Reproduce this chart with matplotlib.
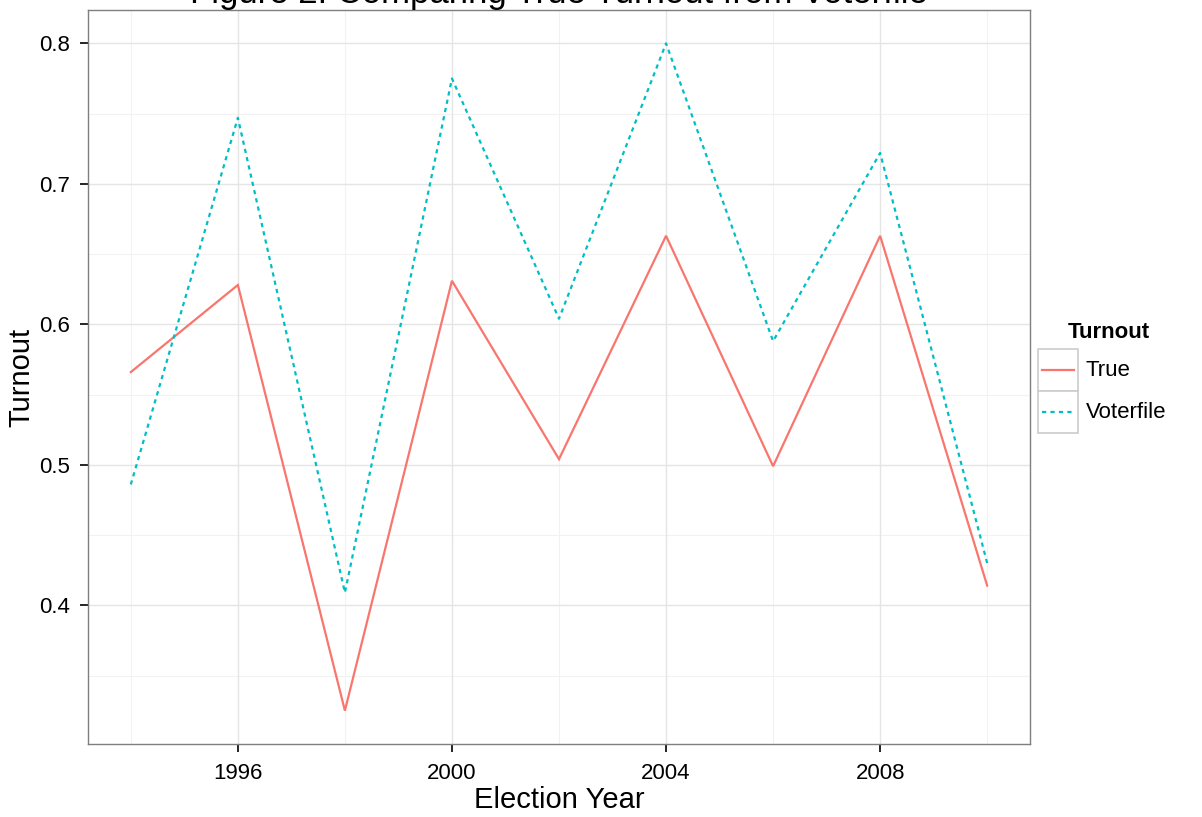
import matplotlib
matplotlib.use("Agg")
import matplotlib.pyplot as plt
from matplotlib.lines import Line2D
from matplotlib.patches import Rectangle

plt.rcParams['font.family'] = ['Liberation Sans', 'DejaVu Sans']

years = [1994, 1996, 1998, 2000, 2002, 2004, 2006, 2008, 2010]
true_turnout = [0.566, 0.628, 0.325, 0.631, 0.504, 0.663, 0.499, 0.663, 0.414]
voterfile_turnout = [0.486, 0.747, 0.409, 0.775, 0.604, 0.800, 0.588, 0.722, 0.430]
series_names = ["True", "Voterfile"]
x_ticks = [1996, 2000, 2004, 2008]
y_ticks = [0.4, 0.5, 0.6, 0.7, 0.8]
x_minor = [1994, 1998, 2002, 2006, 2010]
y_minor = [0.35, 0.45, 0.55, 0.65, 0.75]

W, H = 1202, 817
fig = plt.figure(figsize=(W / 100, H / 100), dpi=100)
left, right, top, bottom = 88, 1030, 10, 744
ax = fig.add_axes([left / W, 1 - bottom / H, (right - left) / W, (bottom - top) / H])

c_true = '#F8766D'
c_vf = '#00BFC4'

for v in x_minor:
    ax.axvline(v, color='#F2F2F2', lw=0.8, zorder=0)
for v in y_minor:
    ax.axhline(v, color='#F2F2F2', lw=0.8, zorder=0)
for v in x_ticks:
    ax.axvline(v, color='#E5E5E5', lw=1.0, zorder=0)
for v in y_ticks:
    ax.axhline(v, color='#E5E5E5', lw=1.0, zorder=0)

ax.plot(years, true_turnout, color=c_true, lw=1.6, solid_joinstyle='miter', zorder=3)
ax.plot(years, voterfile_turnout, color=c_vf, lw=1.6, dashes=(1.9, 1.9), zorder=3)

span = max(years) - min(years)
ax.set_xlim(min(years) - 0.05 * span, max(years) + 0.05 * span)
allv = true_turnout + voterfile_turnout
yr = max(allv) - min(allv)
ax.set_ylim(min(allv) - 0.05 * yr, max(allv) + 0.05 * yr)

ax.set_xticks(x_ticks)
ax.set_xticklabels([str(t) for t in x_ticks])
ax.set_yticks(y_ticks)
ax.set_yticklabels([f"{t:.1f}" for t in y_ticks])
ax.tick_params(axis='both', length=5.5, width=1.2, color='black', labelsize=16, labelcolor='black')
ax.tick_params(axis='x', pad=8.5)
ax.tick_params(axis='y', pad=7.5)

for s in ax.spines.values():
    s.set_color('#7F7F7F')
    s.set_linewidth(1.0)

ax.set_xlabel("Election Year", fontsize=21, labelpad=1)
ax.set_ylabel("Turnout", fontsize=21, labelpad=3)
ax.set_title("Figure 2: Comparing True Turnout from Voterfile", fontsize=25, pad=3)

# Legend (ggplot-style)
fig.text(1068 / W, 1 - 332 / H, "Turnout", fontsize=16, fontweight='bold', ha='left', va='center')
key_x0, key_w, key_h = 1038, 40, 42
key_tops = [349, 391]
colors = [c_true, c_vf]
for name, col, kt in zip(series_names, colors, key_tops):
    fig.patches.append(Rectangle((key_x0 / W, 1 - (kt + key_h) / H), key_w / W, key_h / H,
                                 transform=fig.transFigure, facecolor='white',
                                 edgecolor='#CCCCCC', lw=1.2))
    yc = 1 - (kt + key_h / 2) / H
    ln = Line2D([(key_x0 + 4) / W, (key_x0 + key_w - 4) / W], [yc, yc],
                transform=fig.transFigure, color=col, lw=1.6)
    if name == "Voterfile":
        ln.set_dashes((1.9, 1.9))
    fig.lines.append(ln)
    fig.text((key_x0 + key_w + 8) / W, yc, name, fontsize=16, ha='left', va='center')

fig.savefig("out.png", dpi=100)
